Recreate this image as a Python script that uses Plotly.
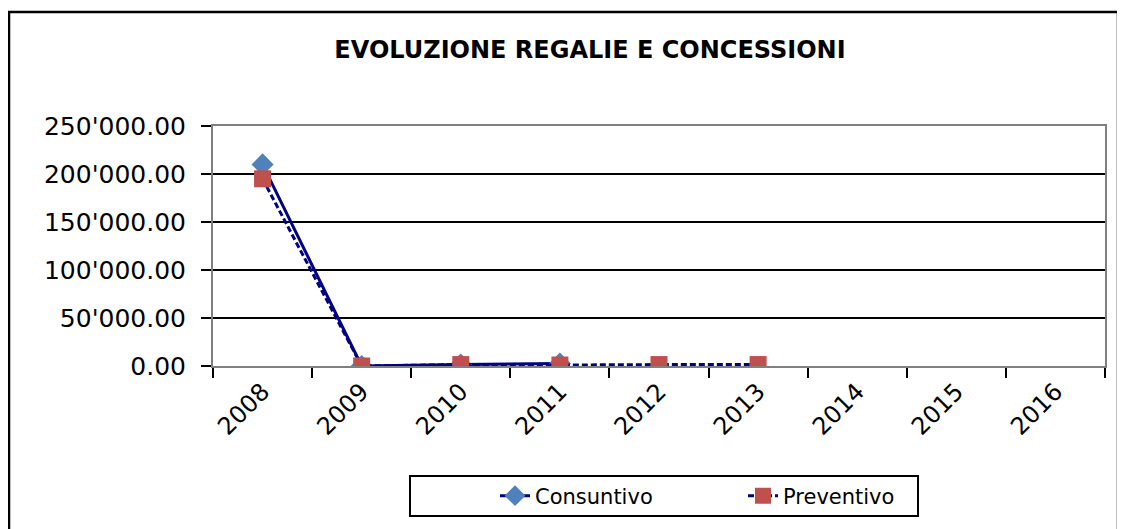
"""Evoluzione regalie e concessioni - consuntivo vs preventivo"""
import plotly.graph_objects as go

# Data
anni = ['2008', '2009', '2010', '2011', '2012', '2013', '2014', '2015', '2016']
consuntivo = [210000, 0, 1500, 2500, None, None, None, None, None]
preventivo = [195000, 0, 1500, 1000, 1500, 1500, None, None, None]
y_ticks = [0, 50000, 100000, 150000, 200000, 250000]
y_labels = [f"{v:,.2f}".replace(",", "'") for v in y_ticks]

FONT = "DejaVu Sans, Arial, sans-serif"

# the page body adds an 8px margin, so the figure is 8px smaller
OFF = 8
W, H = 1125 - OFF, 529 - OFF
# plot area in screen pixels
SX0, SX1, SY0, SY1 = 213, 1105, 126, 366
L, T = SX0 - OFF, SY0 - OFF
R = W - L - (SX1 - SX0)
B = H - T - (SY1 - SY0)


def px(x):
    return (x - SX0) / (SX1 - SX0)


def py(y):
    return (SY1 - y) / (SY1 - SY0)


fig = go.Figure()

fig.add_trace(go.Scatter(
    x=anni,
    y=consuntivo,
    mode='lines+markers',
    name='Consuntivo',
    line=dict(color='#000080', width=3),
    marker=dict(symbol='diamond', size=17, color='#4F81BD'),
))

fig.add_trace(go.Scatter(
    x=anni,
    y=preventivo,
    mode='lines+markers',
    name='Preventivo',
    line=dict(color='#000080', width=3, dash='6px,3px'),
    marker=dict(symbol='square', size=17, color='#C0504D'),
))

# outer chart frame
fig.add_shape(type='rect', xref='paper', yref='paper',
              x0=px(9), x1=px(1118), y0=py(545), y1=py(12),
              line=dict(color='black', width=2.5), layer='below')

# legend box
fig.add_shape(type='rect', xref='paper', yref='paper',
              x0=px(410), x1=px(918), y0=py(516), y1=py(476),
              line=dict(color='black', width=2))

fig.update_layout(
    width=W,
    height=H,
    margin=dict(l=L, r=R, t=T, b=B, autoexpand=False),
    paper_bgcolor='white',
    plot_bgcolor='white',
    font=dict(family=FONT, color='black', size=22),
    title=dict(
        text='<b>EVOLUZIONE REGALIE E CONCESSIONI</b>',
        x=px(590), xref='paper', xanchor='center',
        y=1 - (50 - OFF) / H, yanchor='middle',
        font=dict(family=FONT, size=24, color='black'),
    ),
    showlegend=True,
    legend=dict(
        orientation='h',
        x=px(495), xanchor='left',
        y=py(496), yanchor='middle',
        font=dict(family=FONT, size=21, color='black'),
        bgcolor='rgba(0,0,0,0)',
        entrywidth=203,
    ),
    xaxis=dict(
        type='category',
        categoryorder='array',
        categoryarray=anni,
        range=[-0.5, len(anni) - 0.5],
        tickson='boundaries',
        ticks='outside',
        ticklen=10,
        tickcolor='black',
        tickwidth=2,
        tickangle=-45,
        showline=True,
        linecolor='#808080',
        linewidth=2,
        mirror=True,
        showgrid=False,
        tickfont=dict(family=FONT, size=24),
    ),
    yaxis=dict(
        range=[0, 250000],
        tickvals=y_ticks,
        ticktext=y_labels,
        ticks='outside',
        ticklen=10,
        tickcolor='black',
        tickwidth=2,
        ticklabelstandoff=10,
        showline=True,
        linecolor='#808080',
        linewidth=2,
        mirror=True,
        showgrid=True,
        gridcolor='black',
        gridwidth=2,
        zeroline=False,
        tickfont=dict(family=FONT, size=25),
    ),
)

fig.write_html("out.html")
